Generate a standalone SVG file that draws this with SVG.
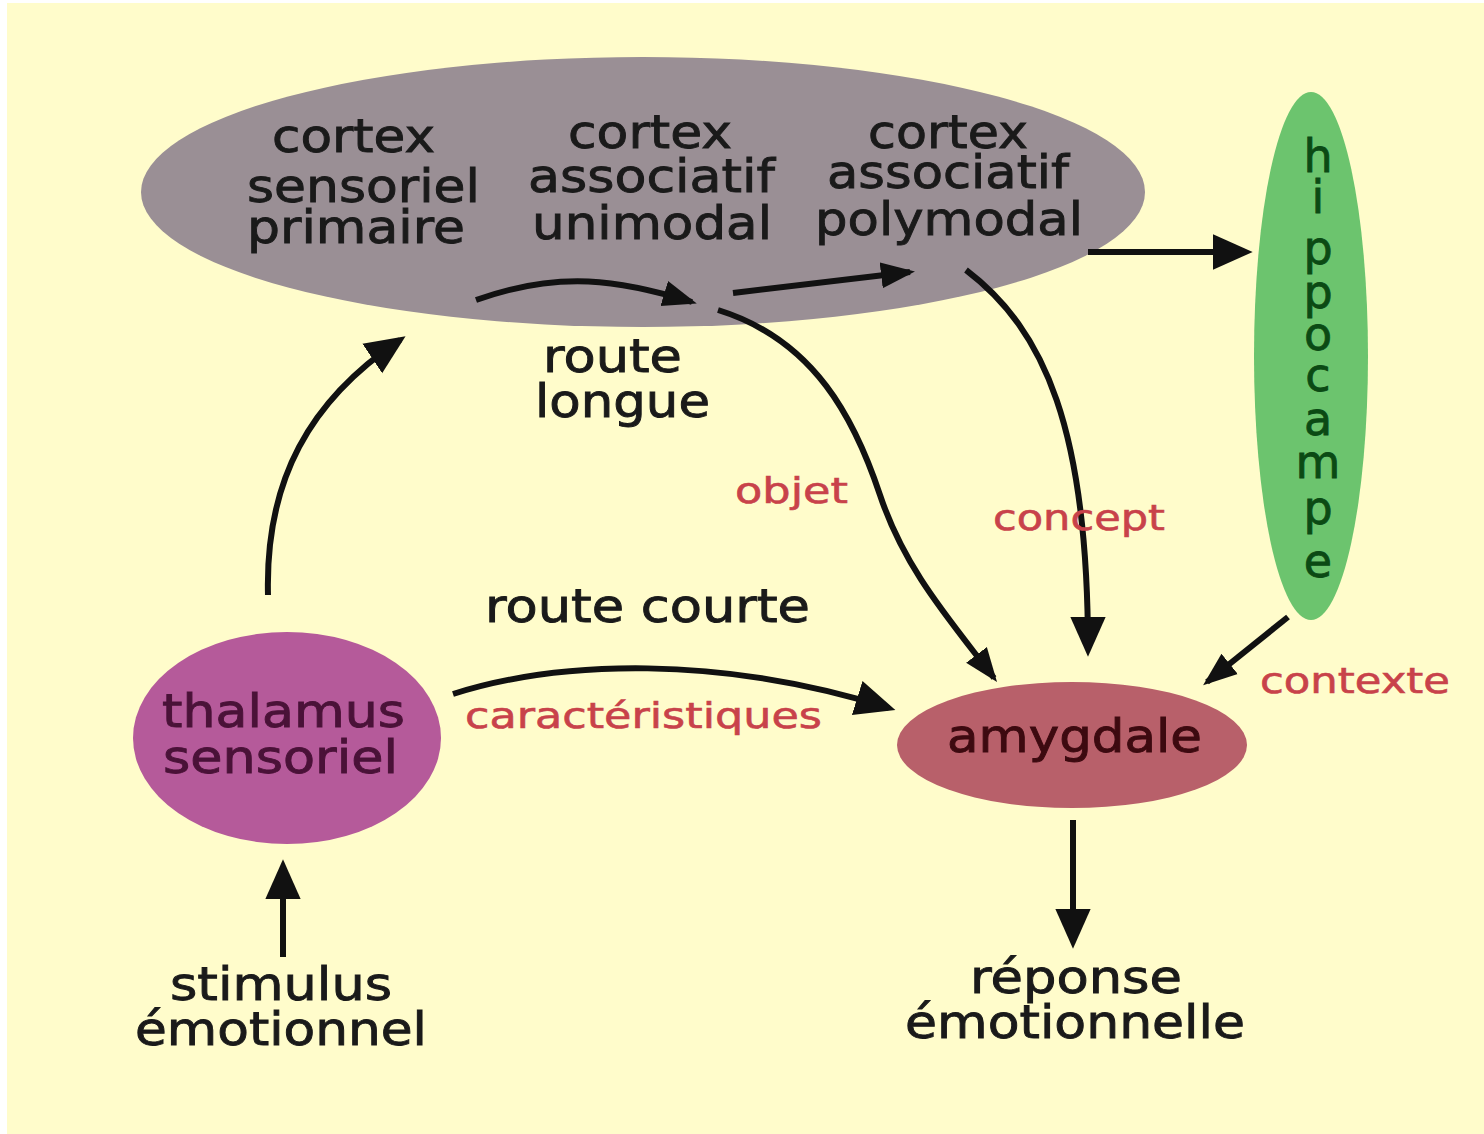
<svg xmlns="http://www.w3.org/2000/svg" width="1484" height="1134" viewBox="0 0 1484 1134">
  <defs>
    <marker id="ah" markerUnits="userSpaceOnUse" markerWidth="40" markerHeight="40" viewBox="0 0 36 32" refX="30" refY="16" orient="auto">
      <path d="M0,0 L36,16 L0,32 Z" fill="#111"/>
    </marker>
    <marker id="ahs" markerUnits="userSpaceOnUse" markerWidth="34" markerHeight="30" viewBox="0 0 34 30" refX="29" refY="15" orient="auto">
      <path d="M0,2 L34,15 L0,28 Z" fill="#111"/>
    </marker>
  </defs>
  <style>
    .lbl { font-family: "DejaVu Sans", Verdana, sans-serif; font-size: 46px; fill: #1a1a1a; stroke: #1a1a1a; stroke-width: 0.9px; }
    .red { font-family: "DejaVu Sans", Verdana, sans-serif; font-size: 36px; fill: #C8424A; stroke: #C8424A; stroke-width: 0.6px; }
    .hip { font-family: "DejaVu Sans", Verdana, sans-serif; font-size: 46px; fill: #0B4A14; stroke: #0B4A14; stroke-width: 0.8px; text-anchor: middle; }
    .conn { fill: none; stroke: #111; stroke-width: 6; }
  </style>
  <rect x="0" y="0" width="1484" height="1134" fill="#ffffff"/>
  <rect x="7" y="3" width="1477" height="1131" fill="#FFFCCB"/>

  <g id="cortex">
    <ellipse cx="643" cy="192" rx="502" ry="135" fill="#9A8F95"/>
    <text class="lbl" x="272" y="152" textLength="163" lengthAdjust="spacingAndGlyphs">cortex</text>
    <text class="lbl" x="247" y="202" textLength="233" lengthAdjust="spacingAndGlyphs">sensoriel</text>
    <text class="lbl" x="247" y="243" textLength="218" lengthAdjust="spacingAndGlyphs">primaire</text>
    <text class="lbl" x="568" y="148" textLength="164" lengthAdjust="spacingAndGlyphs">cortex</text>
    <text class="lbl" x="528" y="192" textLength="247" lengthAdjust="spacingAndGlyphs">associatif</text>
    <text class="lbl" x="532" y="239" textLength="240" lengthAdjust="spacingAndGlyphs">unimodal</text>
    <text class="lbl" x="868" y="148" textLength="160" lengthAdjust="spacingAndGlyphs">cortex</text>
    <text class="lbl" x="827" y="188" textLength="242" lengthAdjust="spacingAndGlyphs">associatif</text>
    <text class="lbl" x="815" y="235" textLength="268" lengthAdjust="spacingAndGlyphs">polymodal</text>
  </g>

  <g id="hippocampe">
    <ellipse cx="1311" cy="356" rx="57" ry="264" fill="#6CC46E"/>
    <text class="hip" x="1318" y="172">h</text>
    <text class="hip" x="1318" y="213">i</text>
    <text class="hip" x="1318" y="264">p</text>
    <text class="hip" x="1318" y="308">p</text>
    <text class="hip" x="1318" y="350">o</text>
    <text class="hip" x="1318" y="391">c</text>
    <text class="hip" x="1318" y="435">a</text>
    <text class="hip" x="1318" y="478">m</text>
    <text class="hip" x="1318" y="524">p</text>
    <text class="hip" x="1318" y="577">e</text>
  </g>

  <g id="thalamus">
    <ellipse cx="287" cy="738" rx="154" ry="106" fill="#B55A9A"/>
    <text class="lbl" x="162" y="727" textLength="243" lengthAdjust="spacingAndGlyphs" style="fill:#4A1238;stroke:#4A1238">thalamus</text>
    <text class="lbl" x="163" y="773" textLength="235" lengthAdjust="spacingAndGlyphs" style="fill:#4A1238;stroke:#4A1238">sensoriel</text>
  </g>

  <g id="amygdale">
    <ellipse cx="1072" cy="745" rx="175" ry="63" fill="#B8606A"/>
    <text class="lbl" x="947" y="752" textLength="255" lengthAdjust="spacingAndGlyphs" style="fill:#3D0A10;stroke:#3D0A10">amygdale</text>
  </g>

  <g id="stimulus">
    <text class="lbl" x="170" y="1000" textLength="222" lengthAdjust="spacingAndGlyphs">stimulus</text>
    <text class="lbl" x="135" y="1045" textLength="292" lengthAdjust="spacingAndGlyphs">émotionnel</text>
  </g>

  <g id="reponse">
    <text class="lbl" x="970" y="993" textLength="212" lengthAdjust="spacingAndGlyphs">réponse</text>
    <text class="lbl" x="905" y="1038" textLength="340" lengthAdjust="spacingAndGlyphs">émotionnelle</text>
  </g>

  <g id="connectors">
    <path class="conn" marker-end="url(#ah)" d="M283 957 L283 866"/>
    <path class="conn" marker-end="url(#ah)" d="M268 595 C265 480 310 400 400 340"/>
    <path class="conn" marker-end="url(#ahs)" d="M476 300 C560 270 620 280 692 302"/>
    <path class="conn" marker-end="url(#ahs)" d="M733 293 L910 272"/>
    <path class="conn" marker-end="url(#ahs)" d="M718 310 C815 340 855 420 880 495 S950 620 994 678"/>
    <path class="conn" marker-end="url(#ah)" d="M966 270 C1045 330 1088 430 1088 650"/>
    <path class="conn" marker-end="url(#ah)" d="M1088 252 L1246 252"/>
    <path class="conn" stroke-width="4" marker-end="url(#ahs)" d="M1288 617 L1207 682"/>
    <path class="conn" marker-end="url(#ah)" d="M453 694 C560 660 720 655 889 708"/>
    <path class="conn" marker-end="url(#ah)" d="M1073 820 L1073 942"/>

    <text class="lbl" x="543" y="372" textLength="139" lengthAdjust="spacingAndGlyphs">route</text>
    <text class="lbl" x="535" y="417" textLength="175" lengthAdjust="spacingAndGlyphs">longue</text>
    <text class="red" x="735" y="503" textLength="113" lengthAdjust="spacingAndGlyphs">objet</text>
    <text class="red" x="993" y="530" textLength="172" lengthAdjust="spacingAndGlyphs">concept</text>
    <text class="lbl" x="485" y="622" textLength="325" lengthAdjust="spacingAndGlyphs">route courte</text>
    <text class="red" x="465" y="728" textLength="357" lengthAdjust="spacingAndGlyphs">caractéristiques</text>
    <text class="red" x="1260" y="693" textLength="190" lengthAdjust="spacingAndGlyphs">contexte</text>
  </g>
</svg>
